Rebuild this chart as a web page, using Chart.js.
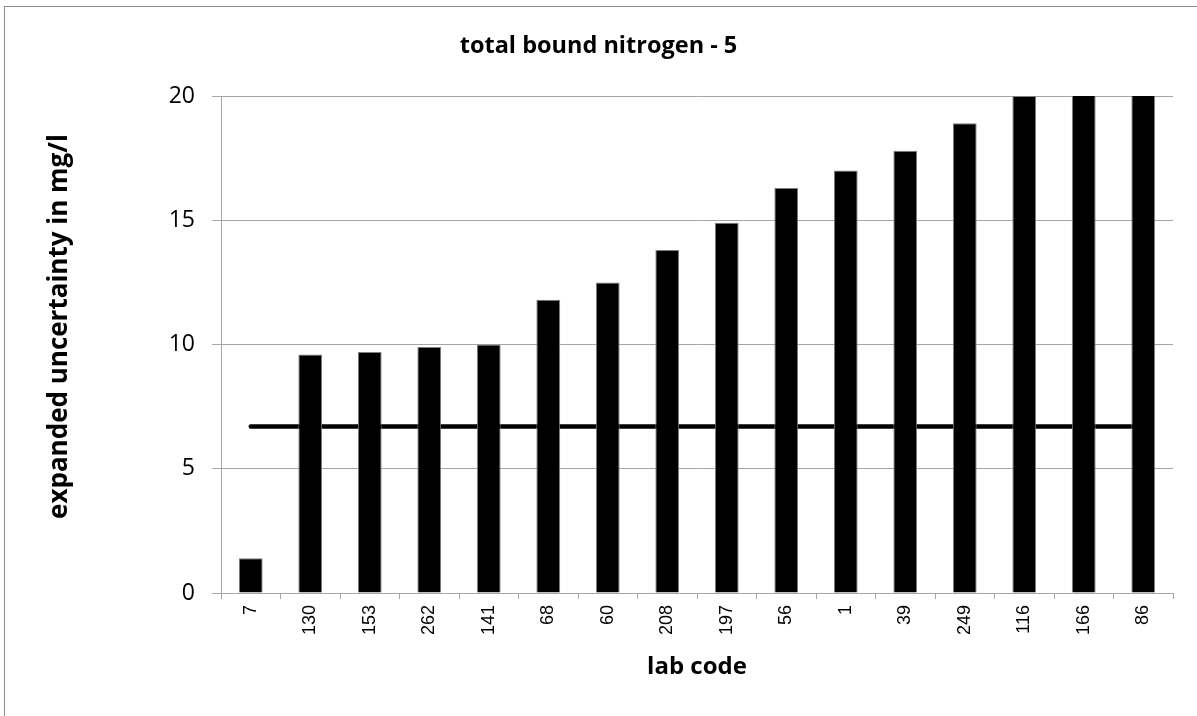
<!DOCTYPE html>
<html>
<head>
<meta charset="utf-8">
<script src="https://cdn.jsdelivr.net/npm/chart.js@4/dist/chart.umd.min.js"></script>
<style>
  html, body { margin: 0; padding: 0; background: #ffffff; overflow: hidden; }
  #wrap { position: relative; width: 1197px; height: 716px; overflow: hidden; }
  #frame { position: absolute; left: 4px; top: 6px; width: 1400px; height: 900px; border: 1px solid #8c8c8c; box-sizing: border-box; }
  #box { position: absolute; left: 0; top: 0; width: 1197px; height: 716px; }
</style>
</head>
<body>
<div id="wrap">
  <div id="frame"></div>
  <div id="box"><canvas id="c"></canvas></div>
</div>
<script>
// ---- data ----
const labCodes = ['7','130','153','262','141','68','60','208','197','56','1','39','249','116','166','86'];
const uncertainty = [1.4, 9.6, 9.7, 9.9, 10.0, 11.8, 12.5, 13.8, 14.9, 16.3, 17.0, 17.8, 18.9, 20.0, 20.6, 21.2];
const limitLine = [6.7, 6.7, 6.7, 6.7, 6.7, 6.7, 6.7, 6.7, 6.7, 6.7, 6.7, 6.7, 6.7, 6.7, 6.7, 6.7];
const yTicks = [0, 5, 10, 15, 20];

const chartTitle = 'total bound nitrogen - 5';
const xTitle = 'lab code';
const yTitle = 'expanded uncertainty in mg/l';

const gridColor = '#a6a6a6';

// y-axis title drawn rotated, slightly above the plot centre as in the reference
const yTitlePlugin = {
  id: 'yTitlePlugin',
  afterDraw(chart) {
    const ctx = chart.ctx;
    const area = chart.chartArea;
    ctx.save();
    ctx.translate(60, (area.top + area.bottom) / 2 - 18);
    ctx.rotate(-Math.PI / 2);
    ctx.font = 'bold 26px "Open Sans"';
    ctx.fillStyle = '#000000';
    ctx.textAlign = 'center';
    ctx.textBaseline = 'middle';
    ctx.fillText(yTitle, 0, 0);
    ctx.restore();
  }
};

new Chart(document.getElementById('c'), {
  type: 'bar',
  data: {
    labels: labCodes,
    datasets: [
      {
        type: 'line',
        data: limitLine,
        borderColor: '#000000',
        borderWidth: 4.5,
        borderCapStyle: 'round',
        pointRadius: 0,
        pointHoverRadius: 0,
        fill: false,
        order: 2
      },
      {
        type: 'bar',
        data: uncertainty,
        backgroundColor: '#000000',
        borderColor: '#7f7f7f',
        borderWidth: 1,
        barPercentage: 0.4,
        categoryPercentage: 1.0,
        clip: 0,
        order: 1
      }
    ]
  },
  plugins: [yTitlePlugin],
  options: {
    responsive: true,
    maintainAspectRatio: false,
    animation: false,
    events: [],
    layout: { padding: 0 },
    plugins: {
      legend: { display: false },
      tooltip: { enabled: false },
      title: {
        display: true,
        text: chartTitle,
        color: '#000000',
        font: { family: 'Open Sans', weight: 'bold', size: 23.5 },
        padding: { top: 32.4, bottom: 35.4 }
      }
    },
    scales: {
      x: {
        afterFit: (s) => { s.height = 123; },
        grid: {
          display: true,
          drawOnChartArea: false,
          drawTicks: true,
          tickLength: 6,
          color: gridColor,
          offset: true
        },
        border: { display: true, color: gridColor, width: 1 },
        ticks: {
          minRotation: 90,
          maxRotation: 90,
          autoSkip: false,
          padding: 6,
          color: '#000000',
          font: { family: 'Liberation Sans', size: 18 }
        },
        title: {
          display: true,
          text: xTitle,
          color: '#000000',
          font: { family: 'Open Sans', weight: 'bold', size: 24 },
          padding: { top: 0, bottom: 34.6 }
        }
      },
      y: {
        min: 0,
        max: 20,
        afterFit: (s) => { s.width = 221; },
        afterBuildTicks: (s) => { s.ticks = yTicks.map(v => ({ value: v })); },
        grid: {
          color: gridColor,
          drawTicks: true,
          tickLength: 9,
          lineWidth: 1
        },
        border: { display: true, color: gridColor, width: 1 },
        ticks: {
          stepSize: 5,
          padding: 17,
          color: '#000000',
          font: { family: 'Open Sans', size: 23 }
        },
        title: { display: false }
      },
      yRight: {
        position: 'right',
        display: true,
        min: 0,
        max: 20,
        afterFit: (s) => { s.width = 24; },
        grid: { display: false, drawOnChartArea: false },
        border: { display: false },
        ticks: { display: false },
        title: { display: false }
      }
    }
  }
});
</script>
</body>
</html>
